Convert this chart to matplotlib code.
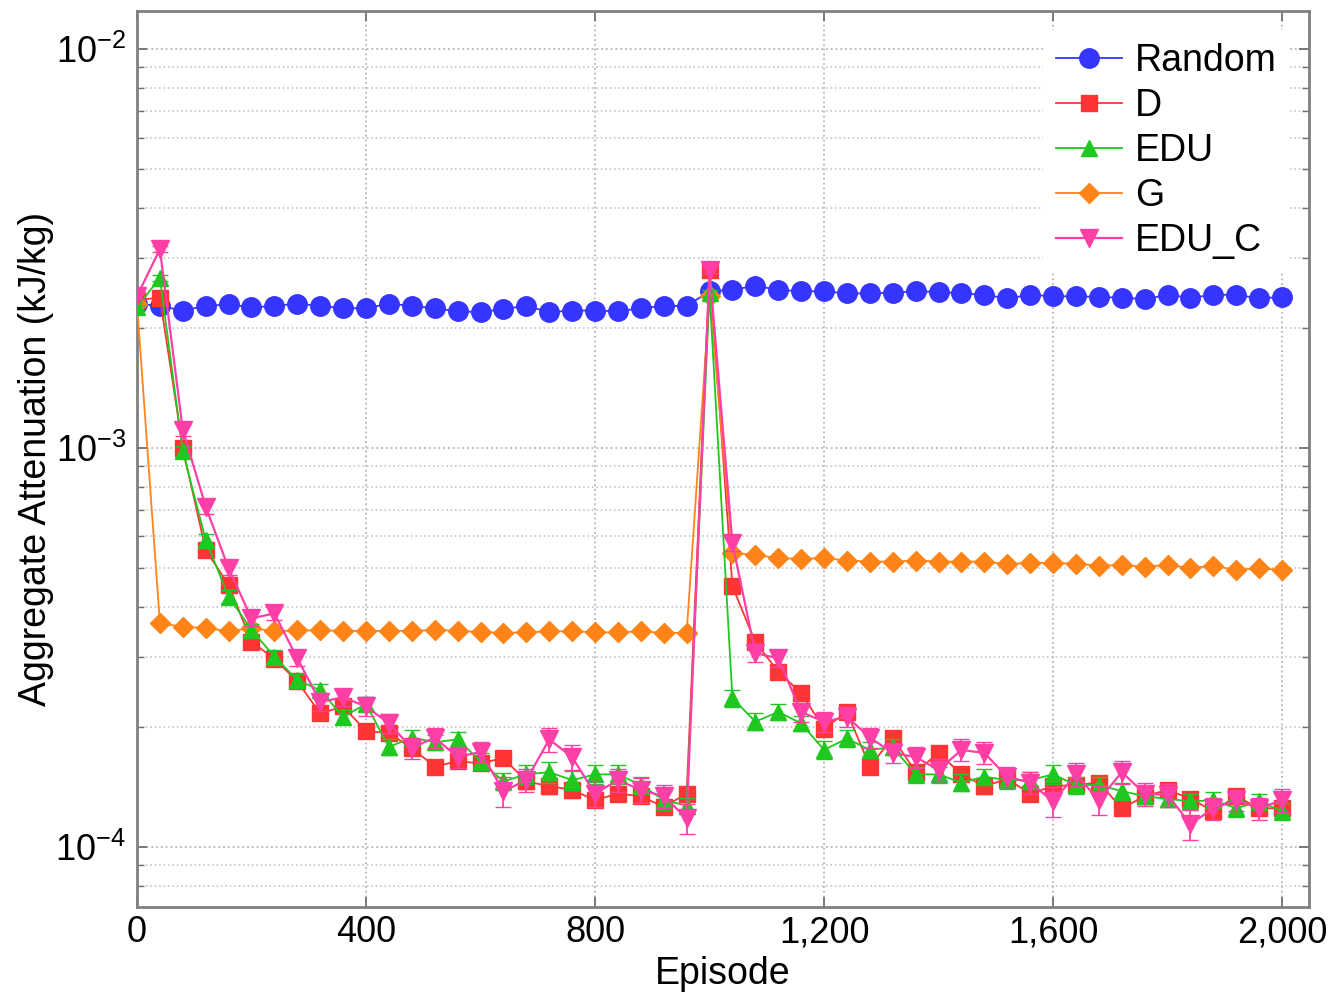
import numpy as np
import matplotlib
matplotlib.use("Agg")
import matplotlib.pyplot as plt
from matplotlib.ticker import FixedLocator, LogLocator, FuncFormatter, NullFormatter

plt.rcParams['font.family'] = ['Liberation Sans', 'DejaVu Sans']

# episodes, one point every 40
episodes = list(range(0, 2001, 40))

# values in units of 1e-3 kJ/kg
random_v = [2.30, 2.27, 2.21, 2.27, 2.29, 2.25, 2.27, 2.30, 2.27, 2.24,
            2.24, 2.30, 2.27, 2.24, 2.20, 2.19, 2.23, 2.27, 2.19, 2.21,
            2.21, 2.20, 2.24, 2.27, 2.27,
            2.47, 2.49, 2.55, 2.49, 2.47, 2.47, 2.44, 2.44, 2.45, 2.47,
            2.46, 2.44, 2.42, 2.37, 2.42, 2.40, 2.40, 2.39, 2.38, 2.36,
            2.42, 2.38, 2.42, 2.42, 2.37, 2.39]
d_v = [2.35, 2.38, 1.00, 0.555, 0.454, 0.327, 0.296, 0.260, 0.216, 0.225,
       0.195, 0.193, 0.177, 0.159, 0.164, 0.162, 0.167, 0.146, 0.142, 0.139,
       0.131, 0.136, 0.134, 0.126, 0.136,
       2.79, 0.450, 0.326, 0.275, 0.243, 0.198, 0.218, 0.159, 0.188, 0.154,
       0.172, 0.152, 0.142, 0.148, 0.136, 0.142, 0.143, 0.145, 0.125, 0.134,
       0.139, 0.132, 0.123, 0.134, 0.125, 0.125]
edu_v = [2.25, 2.67, 0.98, 0.588, 0.424, 0.350, 0.300, 0.262, 0.247, 0.212,
         0.228, 0.178, 0.188, 0.183, 0.186, 0.164, 0.146, 0.152, 0.154, 0.147,
         0.152, 0.152, 0.143, 0.131, 0.127,
         2.45, 0.236, 0.206, 0.218, 0.204, 0.175, 0.187, 0.175, 0.178, 0.152,
         0.152, 0.145, 0.150, 0.147, 0.147, 0.152, 0.143, 0.143, 0.138, 0.134,
         0.132, 0.130, 0.131, 0.125, 0.130, 0.123]
g_v = [2.30, 0.364, 0.356, 0.354, 0.347, 0.354, 0.347, 0.349, 0.349, 0.348,
       0.348, 0.348, 0.348, 0.350, 0.348, 0.346, 0.344, 0.345, 0.347, 0.347,
       0.345, 0.345, 0.347, 0.344, 0.344,
       2.40, 0.546, 0.539, 0.530, 0.527, 0.530, 0.522, 0.519, 0.519, 0.522,
       0.519, 0.519, 0.519, 0.512, 0.515, 0.515, 0.513, 0.507, 0.509, 0.504,
       0.509, 0.500, 0.507, 0.494, 0.500, 0.494]
educ_v = [2.40, 3.15, 1.11, 0.713, 0.499, 0.374, 0.385, 0.297, 0.231, 0.237,
          0.225, 0.204, 0.177, 0.188, 0.168, 0.173, 0.138, 0.147, 0.186, 0.168,
          0.136, 0.147, 0.139, 0.134, 0.118,
          2.79, 0.577, 0.306, 0.297, 0.218, 0.206, 0.212, 0.188, 0.172, 0.168,
          0.156, 0.175, 0.172, 0.150, 0.145, 0.130, 0.152, 0.131, 0.154, 0.136,
          0.135, 0.114, 0.125, 0.131, 0.125, 0.131]

# error bar half-widths, same units
d_err = [0.03, 0.04, 0.03, 0.02, 0.015, 0.012, 0.010, 0.009, 0.008, 0.008,
         0.007, 0.007, 0.007, 0.006, 0.006, 0.006, 0.006, 0.006, 0.006, 0.006,
         0.005, 0.005, 0.005, 0.005, 0.005,
         0.04, 0.015, 0.012, 0.010, 0.009, 0.008, 0.008, 0.007, 0.007, 0.006,
         0.006, 0.006, 0.006, 0.006, 0.006, 0.005, 0.006, 0.006, 0.005, 0.005,
         0.006, 0.005, 0.005, 0.006, 0.005, 0.005]
edu_err = [0.03, 0.05, 0.03, 0.02, 0.016, 0.013, 0.011, 0.010, 0.009, 0.009,
           0.009, 0.008, 0.008, 0.008, 0.008, 0.008, 0.007, 0.008, 0.009, 0.008,
           0.008, 0.008, 0.007, 0.007, 0.006,
           0.04, 0.012, 0.010, 0.010, 0.009, 0.009, 0.009, 0.008, 0.008, 0.007,
           0.007, 0.007, 0.007, 0.007, 0.007, 0.008, 0.007, 0.007, 0.007, 0.006,
           0.006, 0.006, 0.006, 0.006, 0.006, 0.006]
educ_err = [0.04, 0.06, 0.04, 0.03, 0.02, 0.016, 0.015, 0.013, 0.012, 0.012,
            0.012, 0.011, 0.011, 0.011, 0.010, 0.010, 0.012, 0.010, 0.013, 0.012,
            0.010, 0.010, 0.010, 0.009, 0.010,
            0.05, 0.025, 0.016, 0.015, 0.012, 0.012, 0.012, 0.011, 0.010, 0.010,
            0.010, 0.011, 0.011, 0.009, 0.009, 0.011, 0.010, 0.011, 0.010, 0.009,
            0.009, 0.010, 0.008, 0.008, 0.008, 0.009]

scale = 1e-3

fig = plt.figure(figsize=(13.3, 9.93), dpi=100)
ax = fig.add_axes([0.103, 0.0866, 0.8812, 0.9023])

x = np.array(episodes)
h_rand, = ax.plot(x, np.array(random_v) * scale, '-o', color='#3535ff', lw=1.3,
                  ms=14, zorder=3)
d_c = ax.errorbar(x, np.array(d_v) * scale, yerr=np.array(d_err) * scale, fmt='-s',
                  color='#ff3535', lw=1.3, ms=11, capsize=6, elinewidth=1.3,
                  zorder=4)
edu_c = ax.errorbar(x, np.array(edu_v) * scale, yerr=np.array(edu_err) * scale, fmt='-^',
                    color='#1ec81e', lw=1.3, ms=12, capsize=6, elinewidth=1.3,
                    zorder=5)
h_g, = ax.plot(x, np.array(g_v) * scale, '-D', color='#ff8417', lw=1.3,
               ms=10.5, zorder=4.5)
educ_c = ax.errorbar(x, np.array(educ_v) * scale, yerr=np.array(educ_err) * scale, fmt='-v',
                     color='#ff3ea6', lw=1.6, ms=12.5, capsize=6, elinewidth=1.3,
                     zorder=6)

ax.set_yscale('log')
ax.set_xlim(0, 2047)
ax.set_ylim(7.07e-5, 1.245e-2)

ax.xaxis.set_major_locator(FixedLocator([0, 400, 800, 1200, 1600, 2000]))
ax.xaxis.set_major_formatter(FuncFormatter(lambda v, p: f"{v:,.0f}"))
ax.yaxis.set_major_locator(FixedLocator([1e-4, 1e-3, 1e-2]))
ax.yaxis.set_major_formatter(FuncFormatter(
    lambda v, p: r"$\mathregular{10^{%d}}$" % int(round(np.log10(v)))))
ax.yaxis.set_minor_locator(LogLocator(base=10, subs=np.arange(2, 10)))
ax.yaxis.set_minor_formatter(NullFormatter())

ax.grid(True, which='major', linestyle=':', color='#b5b5b5', lw=1.3)
ax.grid(True, which='minor', axis='y', linestyle=':', color='#c5c5c5', lw=1.2)
ax.set_axisbelow(True)

ax.tick_params(which='both', direction='in', top=True, right=True,
               color='#707070', labelsize=26)
ax.tick_params(which='major', length=7, width=1.3)
ax.tick_params(which='minor', length=5, width=1.0)
ax.tick_params(axis='x', pad=6)
ax.tick_params(axis='y', pad=8)
for s in ax.spines.values():
    s.set_color('#808080')
    s.set_linewidth(2)

ax.set_xlabel('Episode', fontsize=27, labelpad=4)
ax.set_ylabel('Aggregate Attenuation (kJ/kg)', fontsize=27, labelpad=1)

handles = [h_rand, d_c[0], edu_c[0], h_g, educ_c[0]]
labels = ['Random', 'D', 'EDU', 'G', 'EDU_C']
leg = ax.legend(handles, labels, loc='upper right', fontsize=27, frameon=True,
                framealpha=1, edgecolor='none', handlelength=1.75,
                handletextpad=0.35, labelspacing=0.24, borderaxespad=0.5,
                borderpad=0.35, numpoints=1)

fig.savefig('out.png', dpi=100)
